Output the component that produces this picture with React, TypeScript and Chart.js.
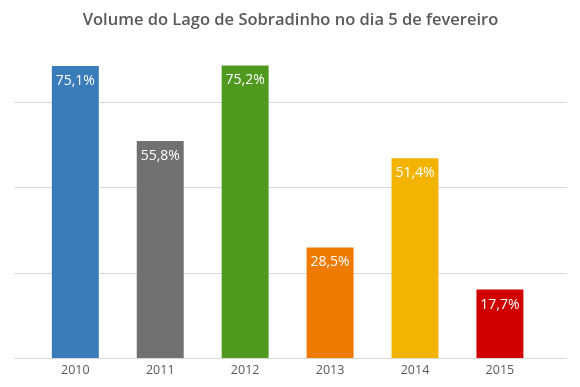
import React, { useEffect, useRef } from "react";
import { Chart, registerables } from "chart.js";

Chart.register(...registerables);

const title = "Volume do Lago de Sobradinho no dia 5 de fevereiro";
const years = ["2010", "2011", "2012", "2013", "2014", "2015"];
const volumes = [75.1, 55.8, 75.2, 28.5, 51.4, 17.7];
const barColors = ["#3A7CBA", "#717171", "#4F9A1E", "#EE7A00", "#F2B400", "#D10000"];
const gridTicks = [0, 21.9, 43.8, 65.7];

const fmt = (v: number) => v.toFixed(1).replace(".", ",") + "%";

const labelPlugin = {
  id: "barLabels",
  afterDatasetsDraw(chart: any) {
    const ctx = chart.ctx;
    const meta = chart.getDatasetMeta(0);
    ctx.save();
    ctx.fillStyle = "#FFFFFF";
    ctx.font = "14px 'Open Sans', 'Liberation Sans', sans-serif";
    ctx.textAlign = "center";
    ctx.textBaseline = "middle";
    meta.data.forEach((el: any, i: number) => {
      ctx.fillText(fmt(volumes[i]), el.x, el.y + 15);
    });
    ctx.restore();
  },
};

export default function App() {
  const ref = useRef<HTMLCanvasElement>(null);
  useEffect(() => {
    if (!ref.current) return;
    const chart = new Chart(ref.current, {
      type: "bar",
      data: {
        datasets: [
          {
            data: volumes.map((v, i) => ({ x: i, y: v })),
            backgroundColor: barColors,
            borderWidth: 0,
            categoryPercentage: 1,
            barPercentage: 0.553,
          },
        ],
      },
      options: {
        animation: false,
        responsive: false,
        layout: { padding: { left: 14, right: 13, top: 4, bottom: 5.5 } },
        plugins: {
          legend: { display: false },
          tooltip: { enabled: false },
          title: {
            display: true,
            text: title,
            color: "#595959",
            font: { family: "'Open Sans', 'Liberation Sans', sans-serif", size: 16.5, weight: "600", lineHeight: 1.2 },
            padding: { top: 6, bottom: 17 },
          },
        },
        scales: {
          x: {
            type: "linear",
            offset: false,
            min: -0.722,
            max: 5.79,
            grid: { display: false, drawTicks: false },
            border: { display: false },
            afterBuildTicks: (axis: any) => {
              axis.ticks = years.map((_, i) => ({ value: i }));
            },
            ticks: {
              color: "#595959",
              font: { family: "'Open Sans', 'Liberation Sans', sans-serif", size: 12.5, lineHeight: 1.2 },
              padding: 4,
              maxRotation: 0,
              autoSkip: false,
              callback: (v: any) => years[Math.round(Number(v))] ?? "",
            },
          },
          y: {
            min: 0,
            max: 80,
            afterBuildTicks: (axis: any) => {
              axis.ticks = gridTicks.map((v) => ({ value: v }));
            },
            grid: { color: "#D9D9D9", lineWidth: 1, drawTicks: false },
            border: { display: false },
            ticks: { display: false },
          },
        },
      },
      plugins: [labelPlugin],
    });
    return () => chart.destroy();
  }, []);
  return (
    <div style={{ position: "fixed", left: 0, top: 0, width: 580, height: 387, background: "#fff" }}>
      <canvas ref={ref} width={580} height={387} />
    </div>
  );
}
